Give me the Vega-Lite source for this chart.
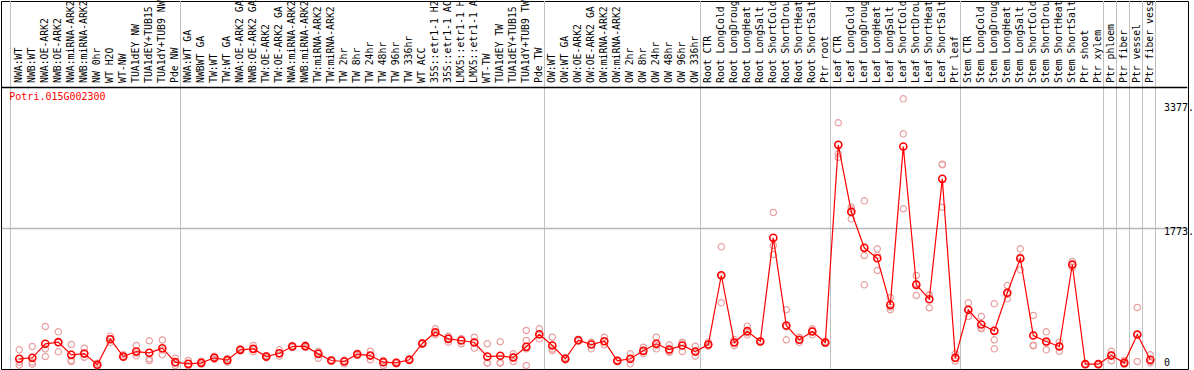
{
  "$schema": "https://vega.github.io/schema/vega-lite/v6.json",
  "width": 1187,
  "height": 368,
  "autosize": {"type": "none"},
  "padding": {"left": 1, "top": 1, "right": 6, "bottom": 1},
  "background": "white",
  "config": {"view": {"stroke": "black", "strokeWidth": 1}, "font": "DejaVu Sans Mono"},
  "datasets": {
    "expr": [
      {"i": 0, "label": "NWA:WT", "v": 87, "reps": [203, 43, 5]},
      {"i": 1, "label": "NWB:WT", "v": 100, "reps": [246, 43, 17]},
      {"i": 2, "label": "NWA:OE-ARK2", "v": 281, "reps": [505, 216, 116]},
      {"i": 3, "label": "NWB:OE-ARK2", "v": 302, "reps": [436, 177, 300]},
      {"i": 4, "label": "NWA:miRNA-ARK2", "v": 138, "reps": [272, 65, 52]},
      {"i": 5, "label": "NWB:miRNA-ARK2", "v": 155, "reps": [224, 107, 151]},
      {"i": 6, "label": "NW 0hr", "v": 10, "reps": [30, 0, 0]},
      {"i": 7, "label": "WT H2O", "v": 340, "reps": [380, 345, 300]},
      {"i": 8, "label": "WT-NW", "v": 116, "reps": [138, 107, 103]},
      {"i": 9, "label": "TUA1dEY NW", "v": 181, "reps": [259, 160, 125]},
      {"i": 10, "label": "TUA1dEY+TUB15", "v": 165, "reps": [320, 87, 65]},
      {"i": 11, "label": "TUA1dY+TUB9 NW", "v": 224, "reps": [330, 200, 140]},
      {"i": 12, "label": "Pde NW", "v": 43, "reps": [94, 35, 0]},
      {"i": 13, "label": "NWA:WT GA", "v": 22, "reps": [65, 0, 0]},
      {"i": 14, "label": "NWBWT GA", "v": 35, "reps": [55, 30, 20]},
      {"i": 15, "label": "TW:WT", "v": 100, "reps": [120, 100, 80]},
      {"i": 16, "label": "TW:WT GA", "v": 69, "reps": [90, 75, 43]},
      {"i": 17, "label": "NWA:OE-ARK2 GA", "v": 203, "reps": [215, 203, 190]},
      {"i": 18, "label": "NWB:OE-ARK2 GA", "v": 216, "reps": [259, 210, 180]},
      {"i": 19, "label": "TW:OE-ARK2", "v": 116, "reps": [130, 116, 100]},
      {"i": 20, "label": "TW:OE-ARK2 GA", "v": 159, "reps": [203, 150, 121]},
      {"i": 21, "label": "NWA:miRNA-ARK2", "v": 246, "reps": [260, 246, 232]},
      {"i": 22, "label": "NWB:miRNA-ARK2", "v": 250, "reps": [265, 250, 235]},
      {"i": 23, "label": "TW:miRNA-ARK2", "v": 151, "reps": [181, 175, 94]},
      {"i": 24, "label": "TW:miRNA-ARK2", "v": 65, "reps": [75, 65, 55]},
      {"i": 25, "label": "TW 2hr", "v": 52, "reps": [70, 60, 22]},
      {"i": 26, "label": "TW 8hr", "v": 146, "reps": [160, 146, 130]},
      {"i": 27, "label": "TW 24hr", "v": 129, "reps": [185, 128, 74]},
      {"i": 28, "label": "TW 48hr", "v": 43, "reps": [65, 60, 0]},
      {"i": 29, "label": "TW 96hr", "v": 35, "reps": [45, 35, 25]},
      {"i": 30, "label": "TW 336hr", "v": 74, "reps": [85, 74, 65]},
      {"i": 31, "label": "WT ACC", "v": 285, "reps": [295, 285, 275]},
      {"i": 32, "label": "35S::etr1-1 H2", "v": 431, "reps": [475, 420, 397]},
      {"i": 33, "label": "35S::etr1-1 AC", "v": 345, "reps": [379, 355, 302]},
      {"i": 34, "label": "LMX5::etr1-1 H", "v": 324, "reps": [345, 345, 281]},
      {"i": 35, "label": "LMX5::etr1-1 A", "v": 298, "reps": [366, 305, 224]},
      {"i": 36, "label": "WT-TW", "v": 116, "reps": [281, 35, 30]},
      {"i": 37, "label": "TUA1dEY TW", "v": 126, "reps": [307, 40, 30]},
      {"i": 38, "label": "TUA1dEY+TUB15", "v": 104, "reps": [151, 110, 52]},
      {"i": 39, "label": "TUA1dY+TUB9 TW", "v": 242, "reps": [453, 324, 216, 0]},
      {"i": 40, "label": "Pde TW", "v": 405, "reps": [475, 395, 345]},
      {"i": 41, "label": "OW:WT", "v": 259, "reps": [366, 215, 194]},
      {"i": 42, "label": "OW:WT GA", "v": 87, "reps": [100, 87, 75]},
      {"i": 43, "label": "OW:OE-ARK2", "v": 327, "reps": [340, 327, 315]},
      {"i": 44, "label": "OW:OE-ARK2 GA", "v": 272, "reps": [300, 300, 216]},
      {"i": 45, "label": "OW:miRNA-ARK2", "v": 314, "reps": [366, 310, 268]},
      {"i": 46, "label": "OW:miRNA-ARK2", "v": 61, "reps": [70, 61, 52]},
      {"i": 47, "label": "OW 2hr", "v": 87, "reps": [151, 88, 22]},
      {"i": 48, "label": "OW 8hr", "v": 190, "reps": [237, 182, 151]},
      {"i": 49, "label": "OW 24hr", "v": 281, "reps": [366, 260, 216]},
      {"i": 50, "label": "OW 48hr", "v": 207, "reps": [268, 180, 172]},
      {"i": 51, "label": "OW 96hr", "v": 259, "reps": [302, 295, 181]},
      {"i": 52, "label": "OW 336hr", "v": 181, "reps": [250, 172, 121]},
      {"i": 53, "label": "Root CTR", "v": 272, "reps": [302, 265, 250]},
      {"i": 54, "label": "Root LongCold", "v": 1168, "reps": [1536, 1158, 811]},
      {"i": 55, "label": "Root LongDroug", "v": 298, "reps": [336, 300, 259]},
      {"i": 56, "label": "Root LongHeat", "v": 444, "reps": [509, 425, 397]},
      {"i": 57, "label": "Root LongSalt", "v": 311, "reps": [320, 311, 302]},
      {"i": 58, "label": "Root ShortCold", "v": 1652, "reps": [1980, 1553, 1436]},
      {"i": 59, "label": "Root ShortDrou", "v": 518, "reps": [721, 500, 333]},
      {"i": 60, "label": "Root ShortHeat", "v": 333, "reps": [366, 333, 300]},
      {"i": 61, "label": "Root ShortSalt", "v": 440, "reps": [475, 448, 397]},
      {"i": 62, "label": "Ptr root", "v": 298, "reps": [310, 298, 285]},
      {"i": 63, "label": "Leaf CTR", "v": 2856, "reps": [3141, 2739, 2695]},
      {"i": 64, "label": "Leaf LongCold", "v": 1989, "reps": [2048, 2020, 1898]},
      {"i": 65, "label": "Leaf LongDroug", "v": 1523, "reps": [2131, 1423, 1044]},
      {"i": 66, "label": "Leaf LongHeat", "v": 1388, "reps": [1510, 1425, 1229]},
      {"i": 67, "label": "Leaf LongSalt", "v": 785, "reps": [880, 755, 721]},
      {"i": 68, "label": "Leaf ShortCold", "v": 2834, "reps": [3451, 2998, 2028]},
      {"i": 69, "label": "Leaf ShortDrou", "v": 1044, "reps": [1165, 1060, 906]},
      {"i": 70, "label": "Leaf ShortHeat", "v": 858, "reps": [915, 910, 747]},
      {"i": 71, "label": "Leaf ShortSalt", "v": 2416, "reps": [2605, 2597, 2048]},
      {"i": 72, "label": "Ptr leaf", "v": 100, "reps": [151, 95, 56]},
      {"i": 73, "label": "Stem CTR", "v": 721, "reps": [811, 720, 634]},
      {"i": 74, "label": "Stem LongCold", "v": 531, "reps": [634, 485, 475]},
      {"i": 75, "label": "Stem LongDroug", "v": 449, "reps": [798, 333, 216]},
      {"i": 76, "label": "Stem LongHeat", "v": 941, "reps": [1035, 925, 863]},
      {"i": 77, "label": "Stem LongSalt", "v": 1385, "reps": [1510, 1405, 1238]},
      {"i": 78, "label": "Stem ShortCold", "v": 388, "reps": [647, 262, 255]},
      {"i": 79, "label": "Stem ShortDrou", "v": 311, "reps": [436, 295, 203]},
      {"i": 80, "label": "Stem ShortHeat", "v": 246, "reps": [302, 250, 185]},
      {"i": 81, "label": "Stem ShortSalt", "v": 1307, "reps": [1346, 1303, 1272]},
      {"i": 82, "label": "Ptr shoot", "v": 17, "reps": [25, 17, 10]},
      {"i": 83, "label": "Ptr xylem", "v": 17, "reps": [25, 17, 10]},
      {"i": 84, "label": "Ptr phloem", "v": 129, "reps": [185, 140, 61]},
      {"i": 85, "label": "Ptr fiber", "v": 35, "reps": [65, 25, 15]},
      {"i": 86, "label": "Ptr vessel", "v": 401, "reps": [751, 400, 52]},
      {"i": 87, "label": "Ptr fiber vess", "v": 74, "reps": [138, 50, 35]}
    ],
    "seps": [
      {"i": -0.677}, {"i": 12.4}, {"i": 40.4}, {"i": 52.4}, {"i": 62.4}, {"i": 72.4},
      {"i": 83.4}, {"i": 84.4}, {"i": 85.4}, {"i": 86.4}, {"i": 87.4}
    ],
    "yticks": [
      {"v": 0, "t": "0"},
      {"v": 1773, "t": "1773."},
      {"v": 3377, "t": "3377."}
    ],
    "hlines": [
      {"kind": "grid", "v": 1773},
      {"kind": "band", "v": 3598}
    ],
    "gene": [{"name": "Potri.015G002300"}]
  },
  "layer": [
    {
      "data": {"name": "seps"},
      "mark": {"type": "rule", "color": "#c0c0c0", "strokeWidth": 1},
      "encoding": {
        "x": {"field": "i", "type": "quantitative", "scale": {"domain": [-1.408, 89.9], "nice": false, "zero": false}, "axis": null}
      }
    },
    {
      "data": {"name": "hlines"},
      "mark": {"type": "rule", "strokeWidth": 1.5, "opacity": 1, "strokeCap": "butt"},
      "encoding": {
        "x": {"datum": -1.35, "type": "quantitative", "scale": {"domain": [-1.408, 89.9], "nice": false, "zero": false}, "axis": null},
        "x2": {"datum": 89.85},
        "y": {"field": "v", "type": "quantitative", "scale": {"domain": [-45, 4716.9], "nice": false, "zero": false}, "axis": null},
        "stroke": {"field": "kind", "type": "nominal", "scale": {"domain": ["grid", "band"], "range": ["#b8b8b8", "#000000"]}, "legend": null}
      }
    },
    {
      "data": {"name": "expr"},
      "transform": [{"flatten": ["reps"]}],
      "mark": {"type": "point", "shape": "circle", "filled": false, "size": 40, "color": "#e8a0a0", "strokeWidth": 1.2, "opacity": 1},
      "encoding": {
        "x": {"field": "i", "type": "quantitative", "scale": {"domain": [-1.408, 89.9], "nice": false, "zero": false}, "axis": null},
        "y": {"field": "reps", "type": "quantitative", "scale": {"domain": [-45, 4716.9], "nice": false, "zero": false}, "axis": null}
      }
    },
    {
      "data": {"name": "expr"},
      "mark": {"type": "line", "color": "#ff0000", "strokeWidth": 1.2},
      "encoding": {
        "x": {"field": "i", "type": "quantitative", "scale": {"domain": [-1.408, 89.9], "nice": false, "zero": false}, "axis": null},
        "y": {"field": "v", "type": "quantitative", "scale": {"domain": [-45, 4716.9], "nice": false, "zero": false}, "axis": null}
      }
    },
    {
      "data": {"name": "expr"},
      "mark": {"type": "point", "shape": "circle", "filled": false, "size": 50, "color": "#ff0000", "strokeWidth": 1.6, "opacity": 1},
      "encoding": {
        "x": {"field": "i", "type": "quantitative", "scale": {"domain": [-1.408, 89.9], "nice": false, "zero": false}, "axis": null},
        "y": {"field": "v", "type": "quantitative", "scale": {"domain": [-45, 4716.9], "nice": false, "zero": false}, "axis": null}
      }
    },
    {
      "data": {"name": "expr"},
      "mark": {"type": "text", "angle": 270, "align": "left", "baseline": "middle", "font": "DejaVu Sans Mono", "fontSize": 9.8, "color": "black"},
      "encoding": {
        "x": {"field": "i", "type": "quantitative", "scale": {"domain": [-1.408, 89.9], "nice": false, "zero": false}, "axis": null},
        "y": {"datum": 3656, "type": "quantitative", "scale": {"domain": [-45, 4716.9], "nice": false, "zero": false}, "axis": null},
        "text": {"field": "label"}
      }
    },
    {
      "data": {"name": "yticks"},
      "transform": [{"filter": "datum.v > 0"}],
      "mark": {"type": "text", "align": "left", "baseline": "middle", "dy": 3, "font": "DejaVu Sans Mono", "fontSize": 10, "color": "black"},
      "encoding": {
        "x": {"datum": 88.05, "type": "quantitative", "scale": {"domain": [-1.408, 89.9], "nice": false, "zero": false}, "axis": null},
        "y": {"field": "v", "type": "quantitative", "scale": {"domain": [-45, 4716.9], "nice": false, "zero": false}, "axis": null},
        "text": {"field": "t"}
      }
    },
    {
      "data": {"name": "yticks"},
      "transform": [{"filter": "datum.v == 0"}],
      "mark": {"type": "text", "align": "left", "baseline": "middle", "dy": -3, "font": "DejaVu Sans Mono", "fontSize": 10, "color": "black"},
      "encoding": {
        "x": {"datum": 88.05, "type": "quantitative", "scale": {"domain": [-1.408, 89.9], "nice": false, "zero": false}, "axis": null},
        "y": {"field": "v", "type": "quantitative", "scale": {"domain": [-45, 4716.9], "nice": false, "zero": false}, "axis": null},
        "text": {"field": "t"}
      }
    },
    {
      "data": {"name": "gene"},
      "mark": {"type": "text", "align": "left", "baseline": "middle", "font": "DejaVu Sans Mono", "fontSize": 10, "color": "#ff0000"},
      "encoding": {
        "x": {"datum": -0.77, "type": "quantitative", "scale": {"domain": [-1.408, 89.9], "nice": false, "zero": false}, "axis": null},
        "y": {"datum": 3470, "type": "quantitative", "scale": {"domain": [-45, 4716.9], "nice": false, "zero": false}, "axis": null},
        "text": {"field": "name"}
      }
    }
  ]
}
